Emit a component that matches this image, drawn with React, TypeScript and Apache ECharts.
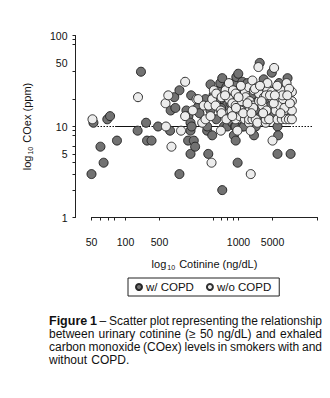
import React, { useEffect, useRef } from "react";
import * as echarts from "echarts";

// Urinary cotinine (ng/dL) vs exhaled CO (ppm)
const copd: [number, number][] = [
  [50, 3], [52, 11], [60, 6], [64, 4], [69, 12], [73, 13], [84, 7],
  [128, 9], [137, 40], [152, 11], [155, 7], [170, 7], [194, 10], [248, 9],
  [251, 15], [270, 21], [276, 16], [300, 3], [300, 25], [346, 15],
  [358, 7], [360, 13], [376, 5], [376, 9], [376, 11], [381, 22], [385, 10], [402, 7], [413, 6],
  [449, 17], [471, 18], [430, 16], [451, 14], [477, 19], [510, 20], [528, 9], [528, 10], [540, 5], [565, 15], [565, 29], [585, 8],
  [635, 12], [635, 19], [670, 25], [690, 30], [718, 2], [718, 34], [743, 10], [757, 19], [780, 17], [796, 10], [822, 23],
  [851, 13], [881, 11], [910, 8], [910, 30], [929, 10], [944, 7], [944, 10], [957, 35], [977, 20], [982, 4], [995, 38],
  [1045, 26], [1082, 10], [1082, 31], [1117, 10], [1140, 17], [1199, 30], [1239, 24], [1371, 8], [1400, 20], [1420, 10],
  [1500, 15], [1540, 50], [1574, 13], [1630, 25], [1670, 33], [1842, 19], [1932, 17], [1970, 39], [2138, 26], [2213, 5],
  [2213, 10], [2243, 8], [2286, 30], [2588, 23], [2716, 19], [2716, 34], [2891, 5],
  [700, 16], [850, 18], [1050, 14], [1200, 26], [1300, 22], [1750, 28], [2050, 13], [2450, 18], [2600, 14], [1150, 12],
  [2350, 21], [1880, 23], [780, 27], [600, 22],
];

const noCopd: [number, number][] = [
  [51, 12], [129, 21], [226, 18], [228, 10], [239, 22], [255, 6], [310, 9], [337, 13], [337, 31], [394, 15], [425, 20],
  [440, 20], [477, 11], [493, 17], [510, 12], [545, 17], [565, 13], [577, 4], [585, 20], [605, 25], [627, 17], [635, 23],
  [698, 9], [698, 15], [708, 14], [708, 21], [769, 25], [780, 12], [822, 20], [822, 30], [869, 15], [881, 18], [893, 25],
  [944, 12], [944, 17], [944, 23], [977, 9], [1023, 13], [1045, 15], [1067, 19], [1140, 12], [1140, 24], [1156, 21],
  [1239, 11], [1239, 12], [1239, 27], [1256, 15], [1256, 19], [1282, 9], [1283, 3], [1327, 12], [1327, 32], [1343, 17],
  [1371, 25], [1420, 12], [1469, 11], [1469, 27], [1500, 45], [1520, 19], [1520, 23], [1630, 17], [1683, 21], [1742, 11],
  [1742, 12], [1767, 15], [1803, 25], [1803, 30], [1866, 12], [1972, 24], [1999, 20], [2000, 7], [2066, 44], [2138, 15],
  [2213, 12], [2213, 19], [2322, 17], [2370, 25], [2416, 12], [2483, 20], [2535, 15], [2625, 12], [2662, 30], [2792, 12],
  [2966, 12], [2966, 15], [2966, 19], [2966, 24],
  [1100, 14], [1350, 16], [1650, 14], [2050, 18], [2450, 22], [2800, 26], [1750, 22], [1200, 18], [950, 16], [760, 22],
  [1050, 28], [1400, 26], [2200, 28], [2550, 16], [2850, 18], [2350, 14], [1900, 22], [1550, 28], [880, 13], [1000, 21],
  [1600, 19], [2700, 22], [1300, 14], [2100, 22],
];

const seriesNames = ["w/ COPD", "w/o COPD"];
const xMin = 50;
const xMax = 5000;
const xTickValues = [50, 60, 70, 80, 100, 200, 600, 700, 800, 900, 1000, 2000, 5000];
const xLabelValues = [50, 100, 200, 1000, 2000];
const xLabelTexts = ["50", "100", "500", "1000", "5000"];
const yMin = 1;
const yMax = 100;
const yTickValues = [1, 2, 3, 4, 5, 6, 8, 9, 10, 20, 40, 80, 90, 100];
const yLabelValues = [1, 5, 10, 50, 100];
const refCO = 10;
const refStart = 50;
const refEnd = 4560;
const refSolid: [number, number][] = [[81, 129], [239, 2900]];

const captionLines = [
  "Figure 1 – Scatter plot representing the relationship",
  "between urinary cotinine (≥ 50 ng/dL) and exhaled",
  "carbon monoxide (COex) levels in smokers with and",
  "without COPD.",
];

const FONT = '"Liberation Sans", Arial, sans-serif';
const L = Math.log10;

export default function App() {
  const ref = useRef<HTMLDivElement>(null);
  useEffect(() => {
    if (!ref.current) return;
    const chart = echarts.init(ref.current, undefined, { renderer: "svg" });

    // caption, justified
    const canvas = document.createElement("canvas");
    const ctx = canvas.getContext("2d")!;
    const capX0 = 49, capX1 = 322, capY0 = 321, capDy = 13;
    const normFont = `12px ${FONT}`;
    const boldFont = `bold 12.5px ${FONT}`;
    const graphics: any[] = [];
    captionLines.forEach((line, li) => {
      const words = line.split(" ");
      const fonts = words.map((w, wi) => (li === 0 && wi < 2 ? boldFont : normFont));
      const widths = words.map((w, wi) => {
        ctx.font = fonts[wi];
        return ctx.measureText(w).width;
      });
      const total = widths.reduce((a, b) => a + b, 0);
      const last = li === captionLines.length - 1;
      ctx.font = normFont;
      const sp = ctx.measureText(" ").width;
      const gap = last ? sp * 1.3 : (capX1 - capX0 - total) / (words.length - 1);
      let x = capX0;
      words.forEach((w, wi) => {
        graphics.push({
          type: "text",
          x,
          y: capY0 + li * capDy,
          style: { text: w, font: fonts[wi], fill: "#111", verticalAlign: "middle", align: "left" },
        });
        x += widths[wi] + gap;
      });
    });

    const lineData: any[] = [
      [{ coord: [L(refStart), L(refCO)], lineStyle: { type: [1.5, 1.5] } }, { coord: [L(refEnd), L(refCO)] }],
      ...refSolid.map(([a, b]) => [
        { coord: [L(a), L(refCO)], lineStyle: { type: "solid" } },
        { coord: [L(b), L(refCO)] },
      ]),
    ];

    const mk = (d: [number, number][]) => d.map(([c, v]) => [L(c), L(v)]);

    chart.setOption({
      animation: false,
      textStyle: { fontFamily: FONT },
      grid: { left: 91.5, right: 12.5, top: 35.5, bottom: 180.5, containLabel: false },
      legend: {
        left: 128,
        top: 278,
        data: seriesNames,
        icon: "circle",
        itemWidth: 6,
        itemHeight: 6,
        itemGap: 12,
        padding: [3, 8, 3, 7],
        borderColor: "#222",
        borderWidth: 1,
        textStyle: { fontSize: 11.5, color: "#111", fontFamily: FONT, padding: [0, 0, 0, -1] },
      },
      xAxis: {
        type: "value",
        min: L(xMin),
        max: L(xMax),
        offset: 11,
        name: "{a|log}{s|10}{a| Cotinine (ng/dL)}",
        nameLocation: "middle",
        nameGap: 28,
        nameTextStyle: {
          rich: {
            a: { fontSize: 11, fontFamily: FONT, color: "#111" },
            s: { fontSize: 7, fontFamily: FONT, color: "#111", padding: [7, 1, 0, 1] },
          },
        },
        axisLine: { show: true, lineStyle: { color: "#222", width: 1 } },
        axisTick: { show: true, length: 3, inside: false, customValues: xTickValues.map(L), lineStyle: { color: "#222" } },
        axisLabel: {
          customValues: xLabelValues.map(L),
          margin: 8,
          fontSize: 10.5,
          color: "#111",
          fontFamily: FONT,
          formatter: (v: number) => {
            const i = xLabelValues.findIndex((t) => Math.abs(L(t) - v) < 1e-6);
            return i >= 0 ? xLabelTexts[i] : "";
          },
        },
        splitLine: { show: false },
      },
      yAxis: {
        type: "value",
        min: L(yMin),
        max: L(yMax),
        offset: 16,
        name: "{a|log}{s|10}{a| COex (ppm)}",
        nameLocation: "middle",
        nameGap: 42,
        nameTextStyle: {
          rich: {
            a: { fontSize: 11, fontFamily: FONT, color: "#111" },
            s: { fontSize: 7, fontFamily: FONT, color: "#111", padding: [7, 1, 0, 1] },
          },
        },
        axisLine: { show: true, lineStyle: { color: "#222", width: 1 } },
        axisTick: { show: true, length: 3, customValues: yTickValues.map(L), lineStyle: { color: "#222" } },
        axisLabel: {
          customValues: yLabelValues.map(L),
          margin: 8,
          fontSize: 10.5,
          color: "#111",
          fontFamily: FONT,
          formatter: (v: number) => String(Math.round(Math.pow(10, v))),
        },
        splitLine: { show: false },
      },
      series: [
        {
          name: seriesNames[0],
          type: "scatter",
          symbol: "circle",
          symbolSize: 9,
          data: mk(copd),
          itemStyle: { color: "#727272", borderColor: "#262626", borderWidth: 1, opacity: 1 },
          markLine: {
            silent: true,
            symbol: ["none", "none"],
            label: { show: false },
            lineStyle: { color: "#111", width: 1 },
            data: lineData,
            z: 1,
          },
          z: 2,
        },
        {
          name: seriesNames[1],
          type: "scatter",
          symbol: "circle",
          symbolSize: 9,
          data: mk(noCopd),
          itemStyle: { color: "#ececec", borderColor: "#303030", borderWidth: 1, opacity: 1 },
          z: 3,
        },
      ],
      graphic: graphics,
    });
    return () => chart.dispose();
  }, []);
  return <div ref={ref} style={{ position: "fixed", left: 0, top: 0, width: 330, height: 398, background: "#fff" }} />;
}
